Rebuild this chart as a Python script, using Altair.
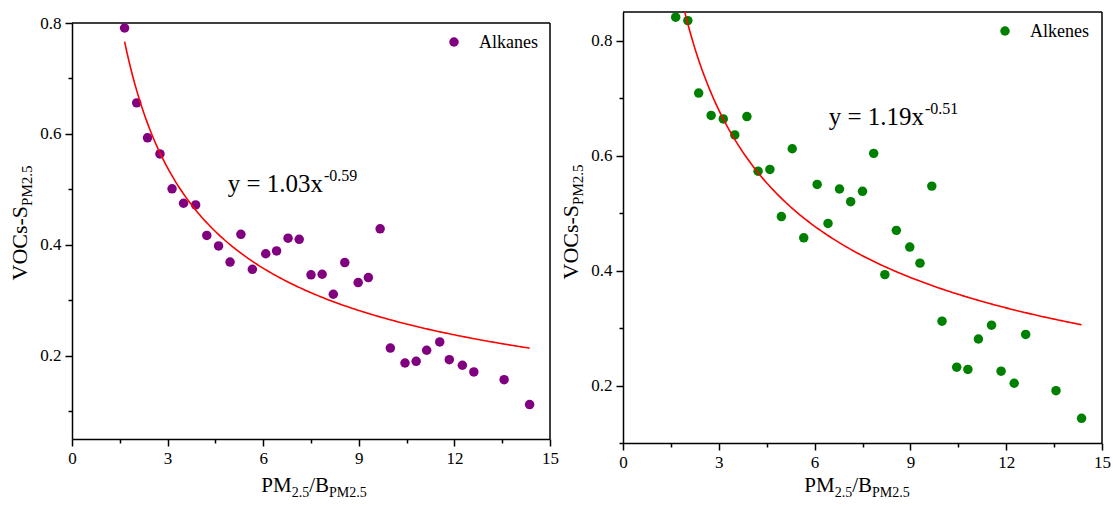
import altair as alt
import numpy as np
import pandas as pd

# PM2.5 / background PM2.5 ratio shared by both panels
ratio = [1.65, 2.03, 2.37, 2.76, 3.14, 3.50, 3.88, 4.23, 4.60, 4.96, 5.30, 5.66,
         6.08, 6.42, 6.78, 7.13, 7.50, 7.85, 8.20, 8.56, 8.98, 9.30, 9.67, 9.99,
         10.45, 10.80, 11.13, 11.54, 11.84, 12.25, 12.61, 13.56, 14.36]

# VOCs-S for each group
alkanes = [0.791, 0.656, 0.593, 0.564, 0.501, 0.475, 0.472, 0.417, 0.398, 0.369, 0.419, 0.356,
           0.384, 0.389, 0.412, 0.410, 0.346, 0.347, 0.311, 0.368, 0.332, 0.341, 0.429, 0.214,
           0.187, 0.190, 0.210, 0.225, 0.193, 0.183, 0.171, 0.157, 0.112]
alkenes = [0.841, 0.835, 0.709, 0.670, 0.664, 0.636, 0.668, 0.573, 0.576, 0.494, 0.612, 0.457,
           0.550, 0.482, 0.542, 0.520, 0.538, 0.604, 0.393, 0.470, 0.441, 0.413, 0.547, 0.312,
           0.232, 0.228, 0.281, 0.305, 0.225, 0.204, 0.289, 0.191, 0.143]

# power-law fits y = a * x^b
fit_alkanes = (1.03, -0.59)
fit_alkenes = (1.19, -0.51)

x_ticks = [0, 1.5, 3, 4.5, 6, 7.5, 9, 10.5, 12, 13.5, 15]
y_ticks = [0.1, 0.2, 0.3, 0.4, 0.5, 0.6, 0.7, 0.8]

FONT = "Liberation Serif"
# Times-compatible advance widths (em) for laying out sub/superscript runs
ADV = {"P": 0.556, "M": 0.889, "2": 0.5, ".": 0.25, "5": 0.5, "/": 0.278, "B": 0.667,
       "V": 0.722, "O": 0.722, "C": 0.667, "s": 0.389, "-": 0.333, "S": 0.556}


def run_width(text, size):
    return sum(ADV[c] for c in text) * size


one = pd.DataFrame({"k": [0]})


def text_at(text, x, y, size, **kw):
    return alt.Chart(one).mark_text(
        text=text, font=FONT, fontSize=size, color="black", baseline="alphabetic", **kw
    ).encode(x=alt.value(x), y=alt.value(y))


def rich_runs(runs, start, fixed, horizontal, **kw):
    """runs: list of (text, size, shift). Lays runs end to end."""
    layers = []
    pos = start
    for text, size, shift in runs:
        if horizontal:
            layers.append(text_at(text, pos, fixed + shift, size, align="left", **kw))
            pos += run_width(text, size)
        else:
            layers.append(text_at(text, fixed + shift, pos, size, align="left", angle=270, **kw))
            pos -= run_width(text, size)
    return layers


X_TITLE = [("PM", 21, 0), ("2.5", 14, 5), ("/B", 21, 0), ("PM2.5", 14, 5)]
Y_TITLE = [("VOCs-S", 22, 0), ("PM2.5", 15, 5)]


def panel(name, values, color, fit, y_domain, width, height, top, eq_end, eq_base,
          xt_center, xt_base, yt_center):
    """top: pixel offset of the plot frame's upper edge inside the view."""
    a, b = fit
    pts = pd.DataFrame({"ratio": ratio, "value": values})
    xs = np.linspace(ratio[0], ratio[-1], 200)
    curve = pd.DataFrame({"ratio": xs, "value": a * xs ** b})

    x_enc = alt.X("ratio:Q", scale=alt.Scale(domain=[0, 15], nice=False, zero=False),
                  axis=alt.Axis(values=x_ticks, title=None, labelFont=FONT, labelFontSize=17,
                                labelExpr="datum.value % 3 === 0 ? datum.label : ''",
                                tickSize={"condition": {"test": "datum.value % 3 !== 0", "value": 4},
                                          "value": 7},
                                labelFlush=False, labelOverlap=False, labelPadding=4))
    y_enc = alt.Y("value:Q",
                  scale=alt.Scale(domain=y_domain, nice=False, zero=False, range=[height, top]),
                  axis=alt.Axis(values=y_ticks, title=None, labelFont=FONT, labelFontSize=17,
                                labelExpr="round(datum.value * 10) % 2 === 0 ? format(datum.value, '.1f') : ''",
                                tickSize={"condition": {"test": "round(datum.value * 10) % 2 !== 0",
                                                        "value": 4},
                                          "value": 7},
                                labelFlush=False, labelOverlap=False, labelPadding=4))

    dots = alt.Chart(pts).mark_circle(size=90, opacity=1, color=color).encode(x=x_enc, y=y_enc)
    line = alt.Chart(curve).mark_line(color="#ff0000", strokeWidth=1.6, clip=True).encode(
        x="ratio:Q", y="value:Q")

    # upper and right edges of the plot frame
    frame_top = alt.Chart(one).mark_rule(color="black", strokeWidth=1.5).encode(
        x=alt.datum(0), x2=alt.datum(15), y=alt.datum(y_domain[1]))
    frame_right = alt.Chart(one).mark_rule(color="black", strokeWidth=1.5).encode(
        x=alt.datum(15), y=alt.datum(y_domain[0]), y2=alt.datum(y_domain[1]))

    legend_dot = alt.Chart(one).mark_circle(size=90, opacity=1, color=color).encode(
        x=alt.value(382), y=alt.value(top + 19))
    legend_txt = text_at(name, 407, top + 25, 18, align="left")

    eq_main = text_at(f"y = {a:.2f}x", eq_end, top + eq_base, 25, align="right")
    eq_sup = text_at(f"{b:.2f}", eq_end + 1, top + eq_base - 11, 16, align="left")

    xt_total = sum(run_width(t, s) for t, s, _ in X_TITLE)
    x_title = rich_runs(X_TITLE, xt_center - xt_total / 2, top + xt_base, True)
    yt_total = sum(run_width(t, s) for t, s, _ in Y_TITLE)
    y_title = rich_runs(Y_TITLE, top + yt_center + yt_total / 2, -45, False)

    return alt.layer(frame_top, frame_right, dots, line, legend_dot, legend_txt, eq_main, eq_sup,
                     *x_title, *y_title).properties(width=width, height=height)


left = panel("Alkanes", alkanes, "#800080", fit_alkanes, [0.05, 0.8], 478, 427, 11,
             eq_end=251, eq_base=169, xt_center=242, xt_base=469, yt_center=200)
right = panel("Alkenes", alkenes, "#008000", fit_alkenes, [0.1, 0.85], 479, 431, 0,
              eq_end=301, eq_base=113, xt_center=234, xt_base=480, yt_center=210)

chart = alt.hconcat(
    left,
    right,
    spacing=73,
    bounds="flush",
).properties(
    autosize=alt.AutoSizeParams(type="none"),
    padding={"left": 72, "top": 12, "right": 1041, "bottom": 494},
    background="white",
).configure_view(
    strokeWidth=0
).configure_axis(
    domainColor="black", domainWidth=1.5, tickColor="black", tickWidth=1.5,
    labelFont=FONT, labelFontSize=17, labelColor="black", grid=False,
)

chart.save("out.html", embed_options={"renderer": "svg", "actions": False})
